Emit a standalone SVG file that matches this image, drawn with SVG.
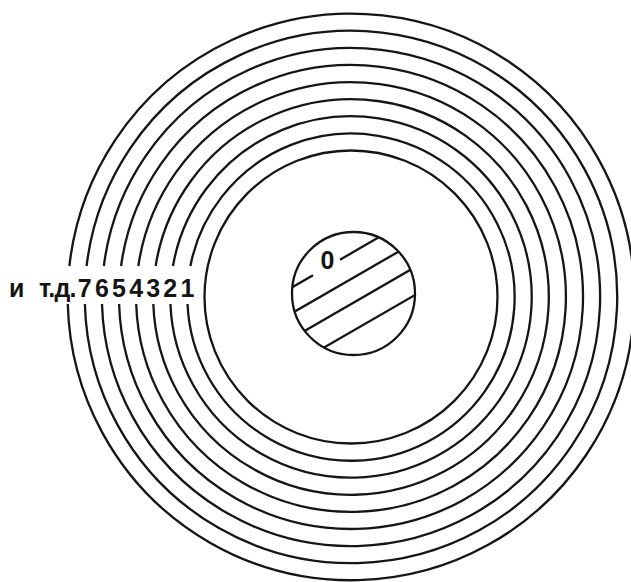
<svg xmlns="http://www.w3.org/2000/svg" width="631" height="582" viewBox="0 0 631 582">
  <style>
    .ring { fill: none; stroke: #151515; stroke-width: 2.3; }
    .hatch { stroke: #151515; stroke-width: 2.3; stroke-linecap: butt; }
    .lbl { font-family: "Liberation Sans", Arial, sans-serif; font-size: 25px; font-weight: bold; fill: #151515; }
  </style>
  <defs>
    <clipPath id="core-clip">
      <circle cx="353.5" cy="293.5" r="61.5"/>
    </clipPath>
  </defs>
  <rect width="631" height="582" fill="#ffffff"/>

  <g id="rings">
    <circle class="ring" cx="351" cy="297" r="146.5"/>
    <path class="ring" d="M190.4 266 A163.6 163.6 0 1 1 187.55 304"/>
    <path class="ring" d="M172.98 266 A180.7 180.7 0 1 1 170.44 304"/>
    <path class="ring" d="M155.64 266 A197.8 197.8 0 1 1 153.32 304"/>
    <path class="ring" d="M138.35 266 A214.9 214.9 0 1 1 136.21 304"/>
    <path class="ring" d="M121.08 266 A232 232 0 1 1 119.11 304"/>
    <path class="ring" d="M103.84 266 A249.1 249.1 0 1 1 102.0 304"/>
    <path class="ring" d="M86.61 266 A266.2 266.2 0 1 1 84.89 304"/>
    <path class="ring" d="M69.4 266 A283.3 283.3 0 1 1 67.79 304"/>
  </g>

  <g id="core">
    <circle class="ring" cx="353.5" cy="293.5" r="61.5"/>
    <g clip-path="url(#core-clip)">
      <line class="hatch" x1="285" y1="291.5" x2="313" y2="275.3"/>
      <line class="hatch" x1="340" y1="259.7" x2="390" y2="230.8"/>
      <line class="hatch" x1="285" y1="317.2" x2="405" y2="247.9"/>
      <line class="hatch" x1="295" y1="336.5" x2="420" y2="264.3"/>
      <line class="hatch" x1="315" y1="352.7" x2="425" y2="289.2"/>
    </g>
    <text class="lbl" x="327.5" y="268.5" text-anchor="middle">0</text>
  </g>

  <g id="labels">
    <text class="lbl" x="9" y="297">и <tspan x="39" letter-spacing="-0.8">т.д.</tspan></text>
    <text class="lbl" x="84.8" y="297" text-anchor="middle">7</text>
    <text class="lbl" x="101.9" y="297" text-anchor="middle">6</text>
    <text class="lbl" x="119" y="297" text-anchor="middle">5</text>
    <text class="lbl" x="136.1" y="297" text-anchor="middle">4</text>
    <text class="lbl" x="153.2" y="297" text-anchor="middle">3</text>
    <text class="lbl" x="170.3" y="297" text-anchor="middle">2</text>
    <text class="lbl" x="187.4" y="297" text-anchor="middle">1</text>
  </g>
</svg>
